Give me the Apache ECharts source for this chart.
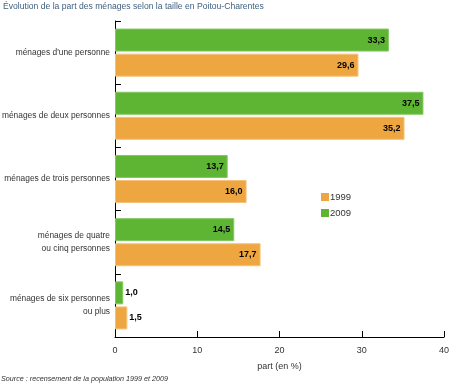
<!DOCTYPE html>
<html><head><meta charset="utf-8">
<script src="https://cdn.jsdelivr.net/npm/echarts@6/dist/echarts.min.js"></script>
<style>html,body{margin:0;padding:0;background:#fff}#c{width:450px;height:387px}</style>
</head><body><div id="c"></div>
<script>
const categories = ["ménages d'une personne", "ménages de deux personnes", "ménages de trois personnes", "ménages de quatre\nou cinq personnes", "ménages de six personnes\nou plus"];
const values1999 = [29.6, 35.2, 16.0, 17.7, 1.5];
const values2009 = [33.3, 37.5, 13.7, 14.5, 1.0];
const xTicks = [0, 10, 20, 30, 40];
const title = "Évolution de la part des ménages selon la taille en Poitou-Charentes";
const source = "Source : recensement de la population 1999 et 2009";

const FONT = "Liberation Sans, Arial, sans-serif";
function mk(vals) {
  return vals.map(v => ({
    value: v,
    label: { position: v < 5 ? 'right' : 'insideRight', distance: v < 5 ? 2 : 4 }
  }));
}
const chart = echarts.init(document.getElementById('c'), null, { renderer: 'canvas' });
chart.setOption({
  animation: false,
  textStyle: { fontFamily: FONT },
  title: [
    { text: title, left: 3, top: 2, padding: 0, textStyle: { fontSize: 8.6, fontWeight: 'normal', color: '#3e5f7e', fontFamily: FONT } },
    { text: source, left: 1, top: 375, padding: 0, textStyle: { fontSize: 7.2, fontWeight: 'normal', fontStyle: 'italic', color: '#333', fontFamily: FONT } }
  ],
  legend: {
    data: ['1999', '2009'], orient: 'vertical', left: 316, top: 187,
    itemWidth: 8, itemHeight: 8, itemGap: 6,
    textStyle: { fontSize: 9.5, color: '#333', fontFamily: FONT, padding: [0, 0, 0, -4] },
    itemStyle: { borderWidth: 0 },
    icon: 'rect'
  },
  grid: { left: 115, right: 6, top: 21, bottom: 50, containLabel: false, outerBoundsMode: 'none' },
  xAxis: {
    type: 'value', min: xTicks[0], max: xTicks[xTicks.length - 1], interval: 10,
    name: 'part (en %)', nameLocation: 'middle', nameGap: 25,
    nameTextStyle: { fontSize: 9, color: '#333', fontFamily: FONT },
    axisLine: { show: true, lineStyle: { color: '#000', width: 1 } },
    axisTick: { show: true, inside: true, length: 6, lineStyle: { color: '#000' } },
    axisLabel: { fontSize: 9, color: '#333', margin: 9, fontFamily: FONT },
    splitLine: { show: false }
  },
  yAxis: {
    type: 'category', data: categories, inverse: true,
    axisLine: { show: true, lineStyle: { color: '#000', width: 1 } },
    axisTick: { show: true, inside: true, length: 6, lineStyle: { color: '#000' } },
    axisLabel: { fontSize: 8.4, color: '#333', margin: 5, lineHeight: 13, align: 'right', fontFamily: FONT }
  },
  series: [
    {
      name: '2009', type: 'bar', data: mk(values2009), barWidth: 23, barGap: '9%',
      itemStyle: { color: '#5db533', borderColor: '#84c862', borderWidth: 1 },
      label: { show: true, fontSize: 9, fontWeight: 'bold', color: '#000', fontFamily: FONT, formatter: p => p.value.toFixed(1).replace('.', ',') }
    },
    {
      name: '1999', type: 'bar', data: mk(values1999), barWidth: 23, barGap: '9%',
      itemStyle: { color: '#eea641', borderColor: '#f5c27a', borderWidth: 1 },
      label: { show: true, fontSize: 9, fontWeight: 'bold', color: '#000', fontFamily: FONT, formatter: p => p.value.toFixed(1).replace('.', ',') }
    }
  ]
});
</script></body></html>
